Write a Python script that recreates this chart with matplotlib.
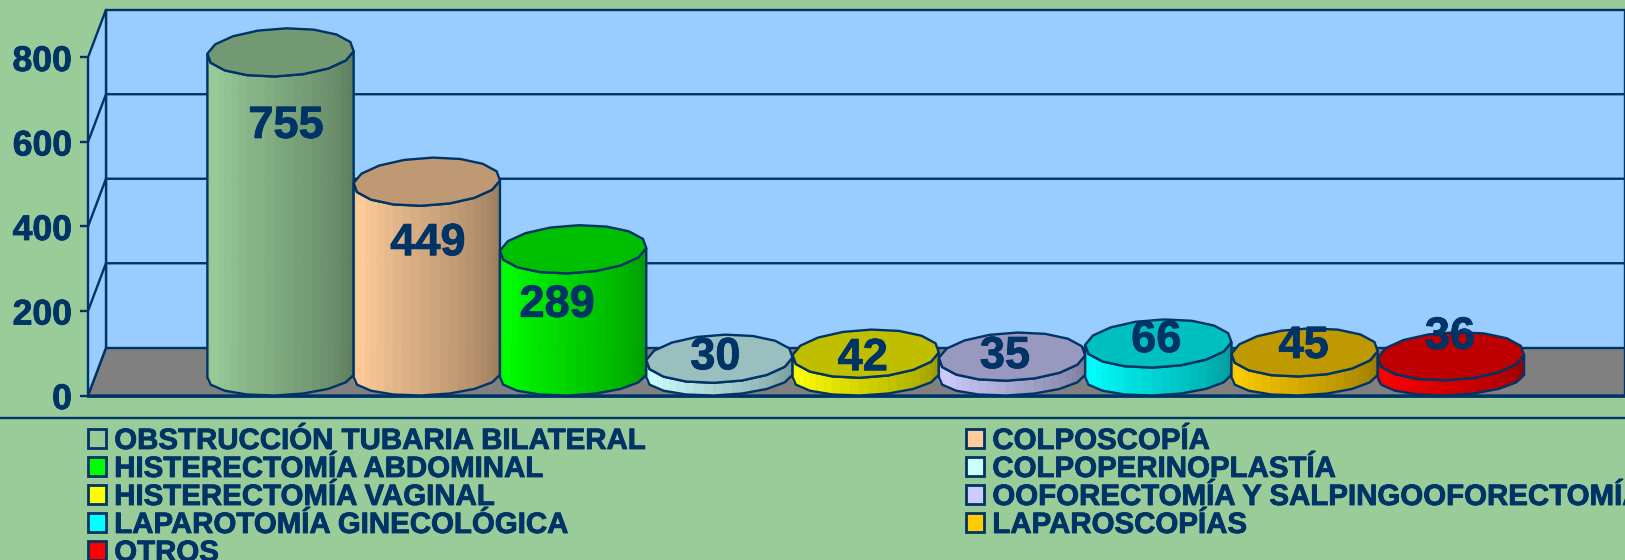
import numpy as np
import matplotlib
matplotlib.use("Agg")
import matplotlib.patheffects as pe
import matplotlib.pyplot as plt
from matplotlib.colors import to_rgb
from matplotlib.patches import Patch, Polygon

plt.rcParams["font.family"] = ["Liberation Sans", "DejaVu Sans"]
plt.rcParams["font.weight"] = "bold"

categories = [
    "OBSTRUCCIÓN TUBARIA BILATERAL",
    "COLPOSCOPÍA",
    "HISTERECTOMÍA ABDOMINAL",
    "COLPOPERINOPLASTÍA",
    "HISTERECTOMÍA VAGINAL",
    "OOFORECTOMÍA Y SALPINGOOFORECTOMÍA",
    "LAPAROTOMÍA GINECOLÓGICA",
    "LAPAROSCOPÍAS",
    "OTROS",
]
values = [755, 449, 289, 30, 42, 35, 66, 45, 36]
colors = ["#99CC99", "#FFCC99", "#00FF00", "#CCFFFF", "#FFFF00",
          "#CCCCFF", "#00FFFF", "#FFCC00", "#FF0000"]
y_ticks = [0, 200, 400, 600, 800]

# nudges of the value labels from the centre of each cylinder top, in pixels
label_dx = [5.5, 1, -16, -4, -3, -7, -2, -1, -1]
label_dy = [-74, -62, -56, 1, -5, 0, 3, 6, 19]

BG = "#99CC99"
WALL = "#99CCFF"
FLOOR = "#808080"
NAVY = "#003366"
LW = 1.7

# 3d look, in data units
DEPTH_X = 0.123
DEPTH_Y = 113
TOP_B = 57
SHEAR_X = 0.04
SHEAR_Y = 3
BASE_Y = 57
FOOT_Y = 46
FOOT_B = 46

heavy = [pe.withStroke(linewidth=0.6, foreground=NAVY)]


def shaded(color, factor):
    return tuple(min(1, c * factor) for c in to_rgb(color))


def ring(x, y, b, t):
    return (x + 0.5 * np.cos(t) + SHEAR_X * np.sin(t),
            y + b * np.sin(t) + SHEAR_Y * np.cos(t))


def draw_cylinder(ax, x, value, color):
    top = BASE_Y + value
    # front of the body, one strip per facet
    t = np.linspace(np.pi, 2 * np.pi, 25)
    xb, yb = ring(x, FOOT_Y, FOOT_B, t)
    xt, yt = ring(x, top, TOP_B, t)
    for i in range(len(t) - 1):
        u = i / (len(t) - 1)
        factor = 0.93 + u * 0.5 if u < 0.15 else 1.0 - (u - 0.15) * 0.5
        strip = [(xb[i], yb[i]), (xb[i + 1], yb[i + 1]),
                 (xt[i + 1], yt[i + 1]), (xt[i], yt[i])]
        ax.add_patch(Polygon(strip, facecolor=shaded(color, factor),
                             edgecolor=shaded(color, factor), lw=0.4, zorder=3))
    edge_t = np.linspace(np.pi, 2 * np.pi, 9)
    xe, ye = ring(x, FOOT_Y, FOOT_B, edge_t)
    xu, yu = ring(x, top, TOP_B, edge_t)
    outline = np.r_[np.c_[xe, ye], np.c_[xu, yu][::-1]]
    ax.add_patch(Polygon(outline, fill=False, edgecolor=NAVY, lw=LW, zorder=3))
    # cap, many-sided like the original
    cap_t = np.linspace(0, 2 * np.pi, 17)
    xc, yc = ring(x, top, TOP_B, cap_t)
    ax.add_patch(Polygon(np.c_[xc, yc], facecolor=shaded(color, 0.75),
                         edgecolor=NAVY, lw=LW, zorder=3))


fig = plt.figure(figsize=(16.25, 5.6), dpi=100, facecolor=BG)
ax = fig.add_axes([88 / 1625, 164.5 / 560, 1537 / 1625, 395.5 / 560])
ax.set_xlim(-1.316, 9.19)
ax.set_ylim(0, 936)
ax.patch.set_visible(False)
for spine in ax.spines.values():
    spine.set_visible(False)

x0, x1 = ax.get_xlim()
wall_top = 800

# walls and floor
ax.add_patch(Polygon([(x0, 0), (x0 + DEPTH_X, DEPTH_Y), (x1, DEPTH_Y), (x1, 0)],
                     facecolor=FLOOR, edgecolor=NAVY, lw=LW, clip_on=False, zorder=1))
ax.add_patch(Polygon([(x0 + DEPTH_X, DEPTH_Y), (x1, DEPTH_Y),
                      (x1, DEPTH_Y + wall_top), (x0 + DEPTH_X, DEPTH_Y + wall_top)],
                     facecolor=WALL, edgecolor=NAVY, lw=LW, clip_on=False, zorder=1))
ax.add_patch(Polygon([(x0, 0), (x0 + DEPTH_X, DEPTH_Y),
                      (x0 + DEPTH_X, DEPTH_Y + wall_top), (x0, wall_top)],
                     facecolor=WALL, edgecolor=NAVY, lw=LW, clip_on=False, zorder=1))
for v in y_ticks[1:-1]:
    ax.plot([x0, x0 + DEPTH_X, x1], [v, v + DEPTH_Y, v + DEPTH_Y],
            color=NAVY, lw=LW, zorder=2, clip_on=False)

for i, (value, color) in enumerate(zip(values, colors)):
    draw_cylinder(ax, i, value, color)
    ax.annotate(str(value), (i, BASE_Y + value), xytext=(label_dx[i], label_dy[i]),
                textcoords="offset pixels", ha="center", va="center",
                fontsize=32.5, color=NAVY, fontweight="bold", zorder=5,
                path_effects=heavy)

ax.plot([x0, x1], [0, 0], color=NAVY, lw=LW + 0.3, zorder=4, clip_on=False)

ax.set_xticks([])
ax.set_yticks(y_ticks)
ax.tick_params(axis="y", length=5.8, width=LW, color=NAVY, pad=5.8,
               labelsize=25.6, labelcolor=NAVY)
for tick in ax.get_yticklabels():
    tick.set_path_effects(heavy)

# rule above the legend
fig.add_artist(plt.Line2D([0, 1], [142 / 560, 142 / 560], color=NAVY, lw=LW))

# the legend fills by column, the source reads across
order = [0, 2, 4, 6, 8, 1, 3, 5, 7]
handles = [Patch(facecolor=colors[i], edgecolor=NAVY, lw=LW + 0.3) for i in order]
labels = [categories[i] for i in order]
legend = fig.legend(handles, labels, ncol=2, loc="upper left",
                    bbox_to_anchor=(88 / 1625, 1 - 427 / 560), frameon=False,
                    fontsize=21.2, labelcolor=NAVY, borderpad=0, borderaxespad=0,
                    handlelength=0.61, handleheight=0.61, handletextpad=0.28,
                    labelspacing=0.0, columnspacing=10.9)
for text in legend.get_texts():
    text.set_path_effects(heavy)

fig.savefig("out.png", dpi=100, facecolor=BG)
